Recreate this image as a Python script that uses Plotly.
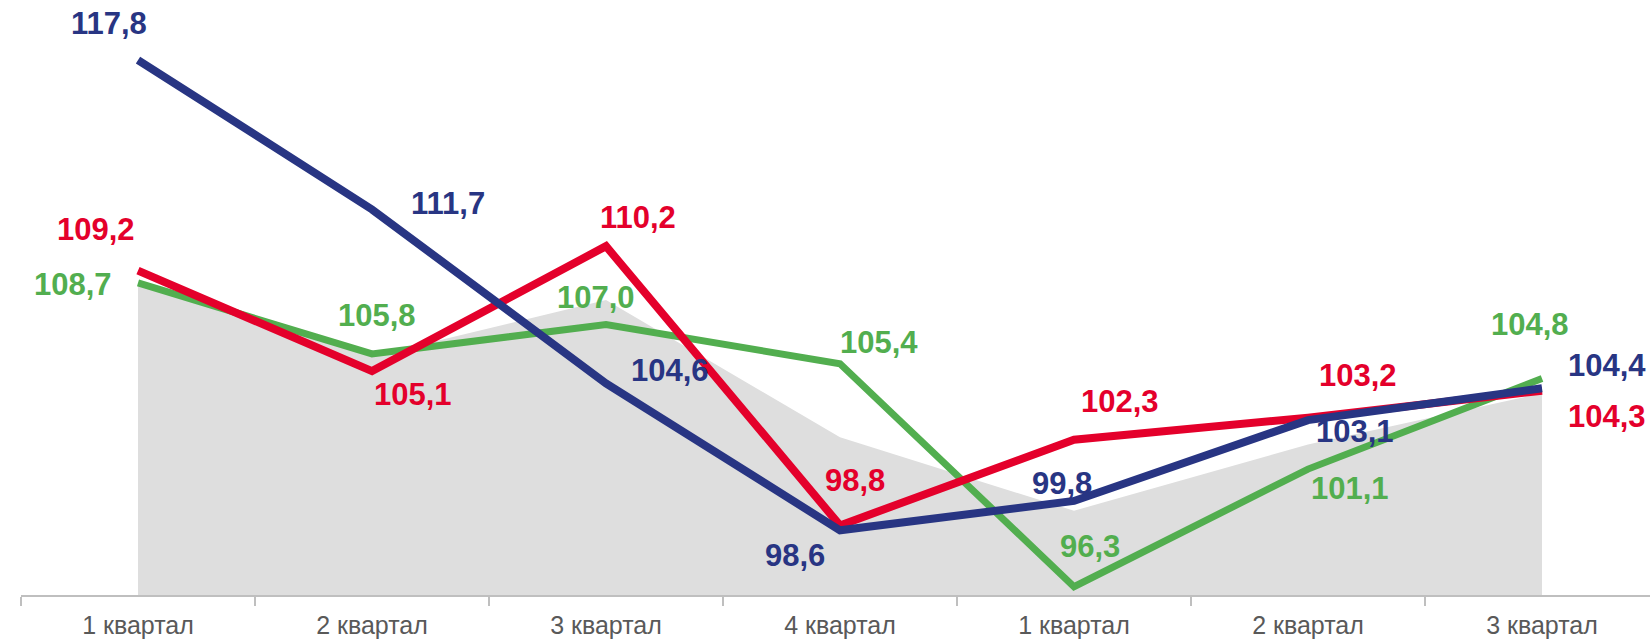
import plotly.graph_objects as go

quarters = ["1 квартал", "2 квартал", "3 квартал", "4 квартал", "1 квартал", "2 квартал", "3 квартал"]
blue = [117.8, 111.7, 104.6, 98.6, 99.8, 103.1, 104.4]
red = [109.2, 105.1, 110.2, 98.8, 102.3, 103.2, 104.3]
green = [108.7, 105.8, 107.0, 105.4, 96.3, 101.1, 104.8]
grey_area = [108.7, 105.7, 108.0, 102.4, 99.4, 102.1, 104.2]

BLUE = "#283583"
RED = "#E4002B"
GREEN = "#52AE4F"
GREY = "#DEDEDE"

x = list(range(len(quarters)))

# label offsets (px): dx right, dy down
blue_off = [(-29, -37), (76, -6), (64, -13), (-45, 25), (-12, -17), (47, 11), (65, -23)]
red_off = [(-42, -41), (41, 23), (32, -29), (15, -45), (46, -38), (50, -42), (65, 26)]
green_off = [(-65, 2), (5, -38), (-10, -27), (39, -21), (16, -40), (42, 19), (-12, -54)]

fig = go.Figure()
fig.add_trace(go.Scatter(x=x, y=grey_area, mode="lines", line=dict(width=0, color=GREY),
                         fill="tozeroy", fillcolor=GREY, hoverinfo="skip"))
fig.add_trace(go.Scatter(x=x, y=green, mode="lines", line=dict(width=7, color=GREEN)))
fig.add_trace(go.Scatter(x=x, y=red, mode="lines", line=dict(width=8, color=RED)))
fig.add_trace(go.Scatter(x=x, y=blue, mode="lines", line=dict(width=8, color=BLUE)))

annotations = []
for vals, offs, col in [(blue, blue_off, BLUE), (red, red_off, RED), (green, green_off, GREEN)]:
    for xi, v, (dx, dy) in zip(x, vals, offs):
        annotations.append(dict(
            x=xi, y=v, xref="x", yref="y",
            text="<b>" + f"{v:.1f}".replace(".", ",") + "</b>",
            showarrow=False, xshift=dx, yshift=-dy,
            font=dict(family="Liberation Sans, Arial, sans-serif", size=31, color=col),
        ))

fig.update_layout(
    width=1650, height=641,
    margin=dict(l=21, r=0, t=0, b=46, autoexpand=False),
    paper_bgcolor="white", plot_bgcolor="white",
    showlegend=False,
    annotations=annotations,
    xaxis=dict(
        range=[-0.5, 6.4615], tickvals=x, ticktext=quarters, ticks="",
        ticklabelstandoff=7, automargin=False,
        showgrid=False, zeroline=False, showline=True, linecolor="#BFBFBF", linewidth=1.5,
        tickfont=dict(family="Liberation Sans, Arial, sans-serif", size=25, color="#595959"),
        minor=dict(tickvals=[i - 0.5 for i in x], ticks="outside", ticklen=9,
                   tickcolor="#BFBFBF", tickwidth=1.5, showgrid=False),
    ),
    yaxis=dict(range=[95.96, 120.25], visible=False, showgrid=False, zeroline=False,
               automargin=False),
)

fig.write_html("out.html", post_script="document.body.style.margin='0';",
               config={"displayModeBar": False})
